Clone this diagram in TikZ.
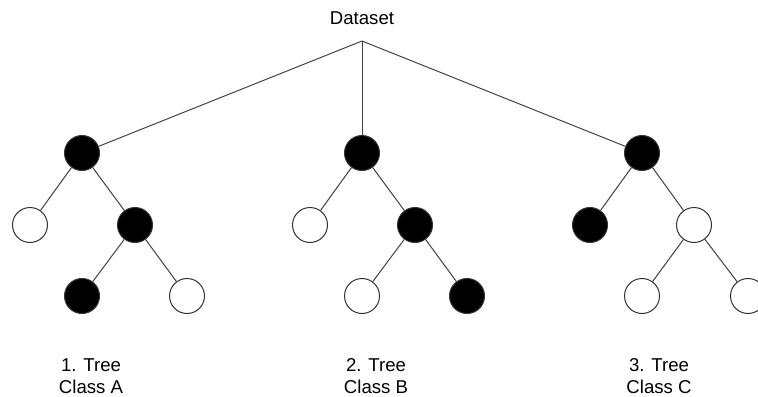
\documentclass[tikz,border=0pt]{standalone}
\usepackage{fontspec}
\setmainfont{Liberation Sans}
\usetikzlibrary{positioning}

\begin{document}
\begin{tikzpicture}[
    x=0.5pt, y=-0.5pt,
    vertex/.style={circle, draw=black!80, line width=0.5pt, minimum size=17.5pt, inner sep=0pt},
    full/.style={vertex, fill=black},
    empty/.style={vertex, fill=white},
    branch/.style={draw=black!75, line width=0.5pt},
    caption/.style={font=\fontsize{9.3}{11}\selectfont, align=center}
  ]
  \useasboundingbox (0,0) rectangle (758,396);
  % Dataset at the top
  \node[caption] (data) at (362,18) {Dataset};
  \coordinate (split) at (362,41);
  % Tree 1
  \node[full] (a0) at (82,153) {};
  \node[empty] (a1) at (30,225) {};
  \node[full] (a2) at (135,225) {};
  \node[full] (a3) at (82,296) {};
  \node[empty] (a4) at (187,296) {};
  \node[caption] (la) at (91,376) {1. Tree\\Class A};
  % Tree 2
  \node[full] (b0) at (362,153) {};
  \node[empty] (b1) at (310,225) {};
  \node[full] (b2) at (415,225) {};
  \node[empty] (b3) at (362,296) {};
  \node[full] (b4) at (467,296) {};
  \node[caption] (lb) at (376,376) {2. Tree\\Class B};
  % Tree 3
  \node[full] (c0) at (642,153) {};
  \node[full] (c1) at (590,225) {};
  \node[empty] (c2) at (694,225) {};
  \node[empty] (c3) at (642,296) {};
  \node[empty] (c4) at (748,296) {};
  \node[caption] (lc) at (659,376) {3. Tree\\Class C};
  % Split of the dataset
  \draw[branch] (split) -- (a0); \draw[branch] (split) -- (b0);
  \draw[branch] (split) -- (c0);
  % Branches
  \draw[branch] (a0) -- (a1); \draw[branch] (a0) -- (a2);
  \draw[branch] (a2) -- (a3); \draw[branch] (a2) -- (a4);
  \draw[branch] (b0) -- (b1); \draw[branch] (b0) -- (b2);
  \draw[branch] (b2) -- (b3); \draw[branch] (b2) -- (b4);
  \draw[branch] (c0) -- (c1); \draw[branch] (c0) -- (c2);
  \draw[branch] (c2) -- (c3); \draw[branch] (c2) -- (c4);
\end{tikzpicture}
\end{document}
